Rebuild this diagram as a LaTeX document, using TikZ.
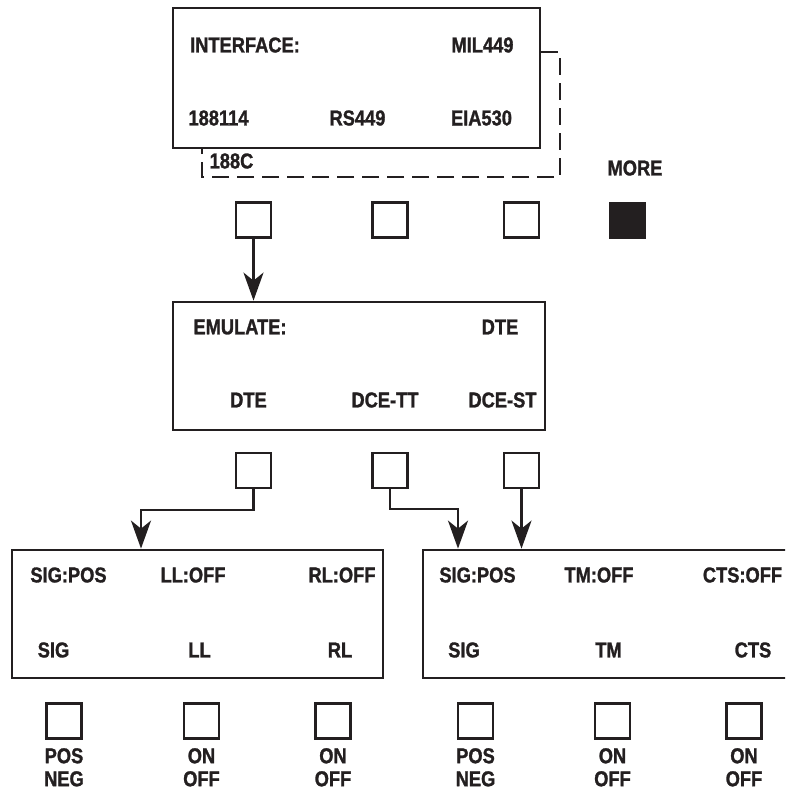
\documentclass[tikz,border=0pt]{standalone}
\usepackage{fontspec}
\setmainfont{Liberation Sans}[FakeStretch=0.85, BoldFeatures={FakeBold=1.3}]
\usetikzlibrary{arrows.meta}

\definecolor{ink}{HTML}{231F20}
\newcommand{\lcdfont}{\fontsize{21.5}{23}\selectfont\bfseries}

\tikzset{
    panel/.style={draw=ink, line width=2.8pt, inner sep=0pt},
    keybox/.style={draw=ink, line width=2.3pt, minimum size=35pt, inner sep=0pt},
    lbl/.style={inner sep=0pt, text=ink, font=\lcdfont},
    conn/.style={draw=ink, line width=2.4pt, -{Stealth[length=28pt,width=20pt,inset=8pt]}},
}

\begin{document}
\begin{tikzpicture}[x=1pt, y=-1pt]
        \useasboundingbox (0,0) rectangle (785,793);
        \clip (0,0) rectangle (785,793);
        % display panels
        \node[panel, minimum width=367pt, minimum height=140pt] (iface) at (356.5,78) {};
        \node[panel, minimum width=372pt, minimum height=128pt] (emul) at (359,366) {};
        \node[panel, minimum width=371pt, minimum height=128pt] (sigl) at (197.5,614) {};
        \node[panel, minimum width=369pt, minimum height=128pt] (sigr) at (607.5,614) {};
        % second page of the interface menu
        \draw[ink, line width=2.5pt, dash pattern=on 17pt off 8pt]
            (541,52) -- (560,52) -- (560,177) -- (202,177) -- (202,149);
        % texts on the panels
        \foreach \txt/\x/\y [count=\i] in {INTERFACE:/245/45, MIL449/482.5/45, 188114/218.5/118,
                RS449/357.5/118, EIA530/481.5/118, 188C/231.5/161, MORE/635/168,
                EMULATE:/240/327, DTE/500/327, DTE/248.5/400, DCE-TT/385/400, DCE-ST/502.5/400,
                SIG:POS/68.5/575, LL:OFF/193/575, RL:OFF/342/575, SIG/53.5/650, LL/199.5/650, RL/340/650,
                SIG:POS/477.5/575, TM:OFF/599/575, CTS:OFF/742.5/575, SIG/464/650, TM/608.5/650, CTS/753/650} {
            \node[lbl] (txt\i) at (\x,\y) {\txt};
        }
        % soft keys
        \foreach \x [count=\i] in {253.5, 390, 521.5} {
            \node[keybox] (k\i) at (\x,220) {};
            \node[keybox] (e\i) at (\x,470.5) {};
        }
        \node[keybox, fill=ink] (more) at (627.5,220.5) {};
        \foreach \x/\top/\bot [count=\i] in {64/POS/NEG, 201.5/ON/OFF, 333/ON/OFF,
                475.5/POS/NEG, 612.5/ON/OFF, 744/ON/OFF} {
            \node[keybox] (s\i) at (\x,721) {};
            \node[lbl, anchor=north, align=center] (sl\i) at (\x,748) {\top\\\bot};
        }
        % menu flow
        \draw[conn] (k1.south) -- (k1.south |- emul.north);
        \draw[conn] (e1.south) -- ++(0,21) -| ([xshift=-56.5pt]sigl.north);
        \draw[conn] (e2.south) -- ++(0,20) -| ([xshift=-149.5pt]sigr.north);
        \draw[conn] (e3.south) -- (e3.south |- sigr.north);
    \end{tikzpicture}
\end{document}
